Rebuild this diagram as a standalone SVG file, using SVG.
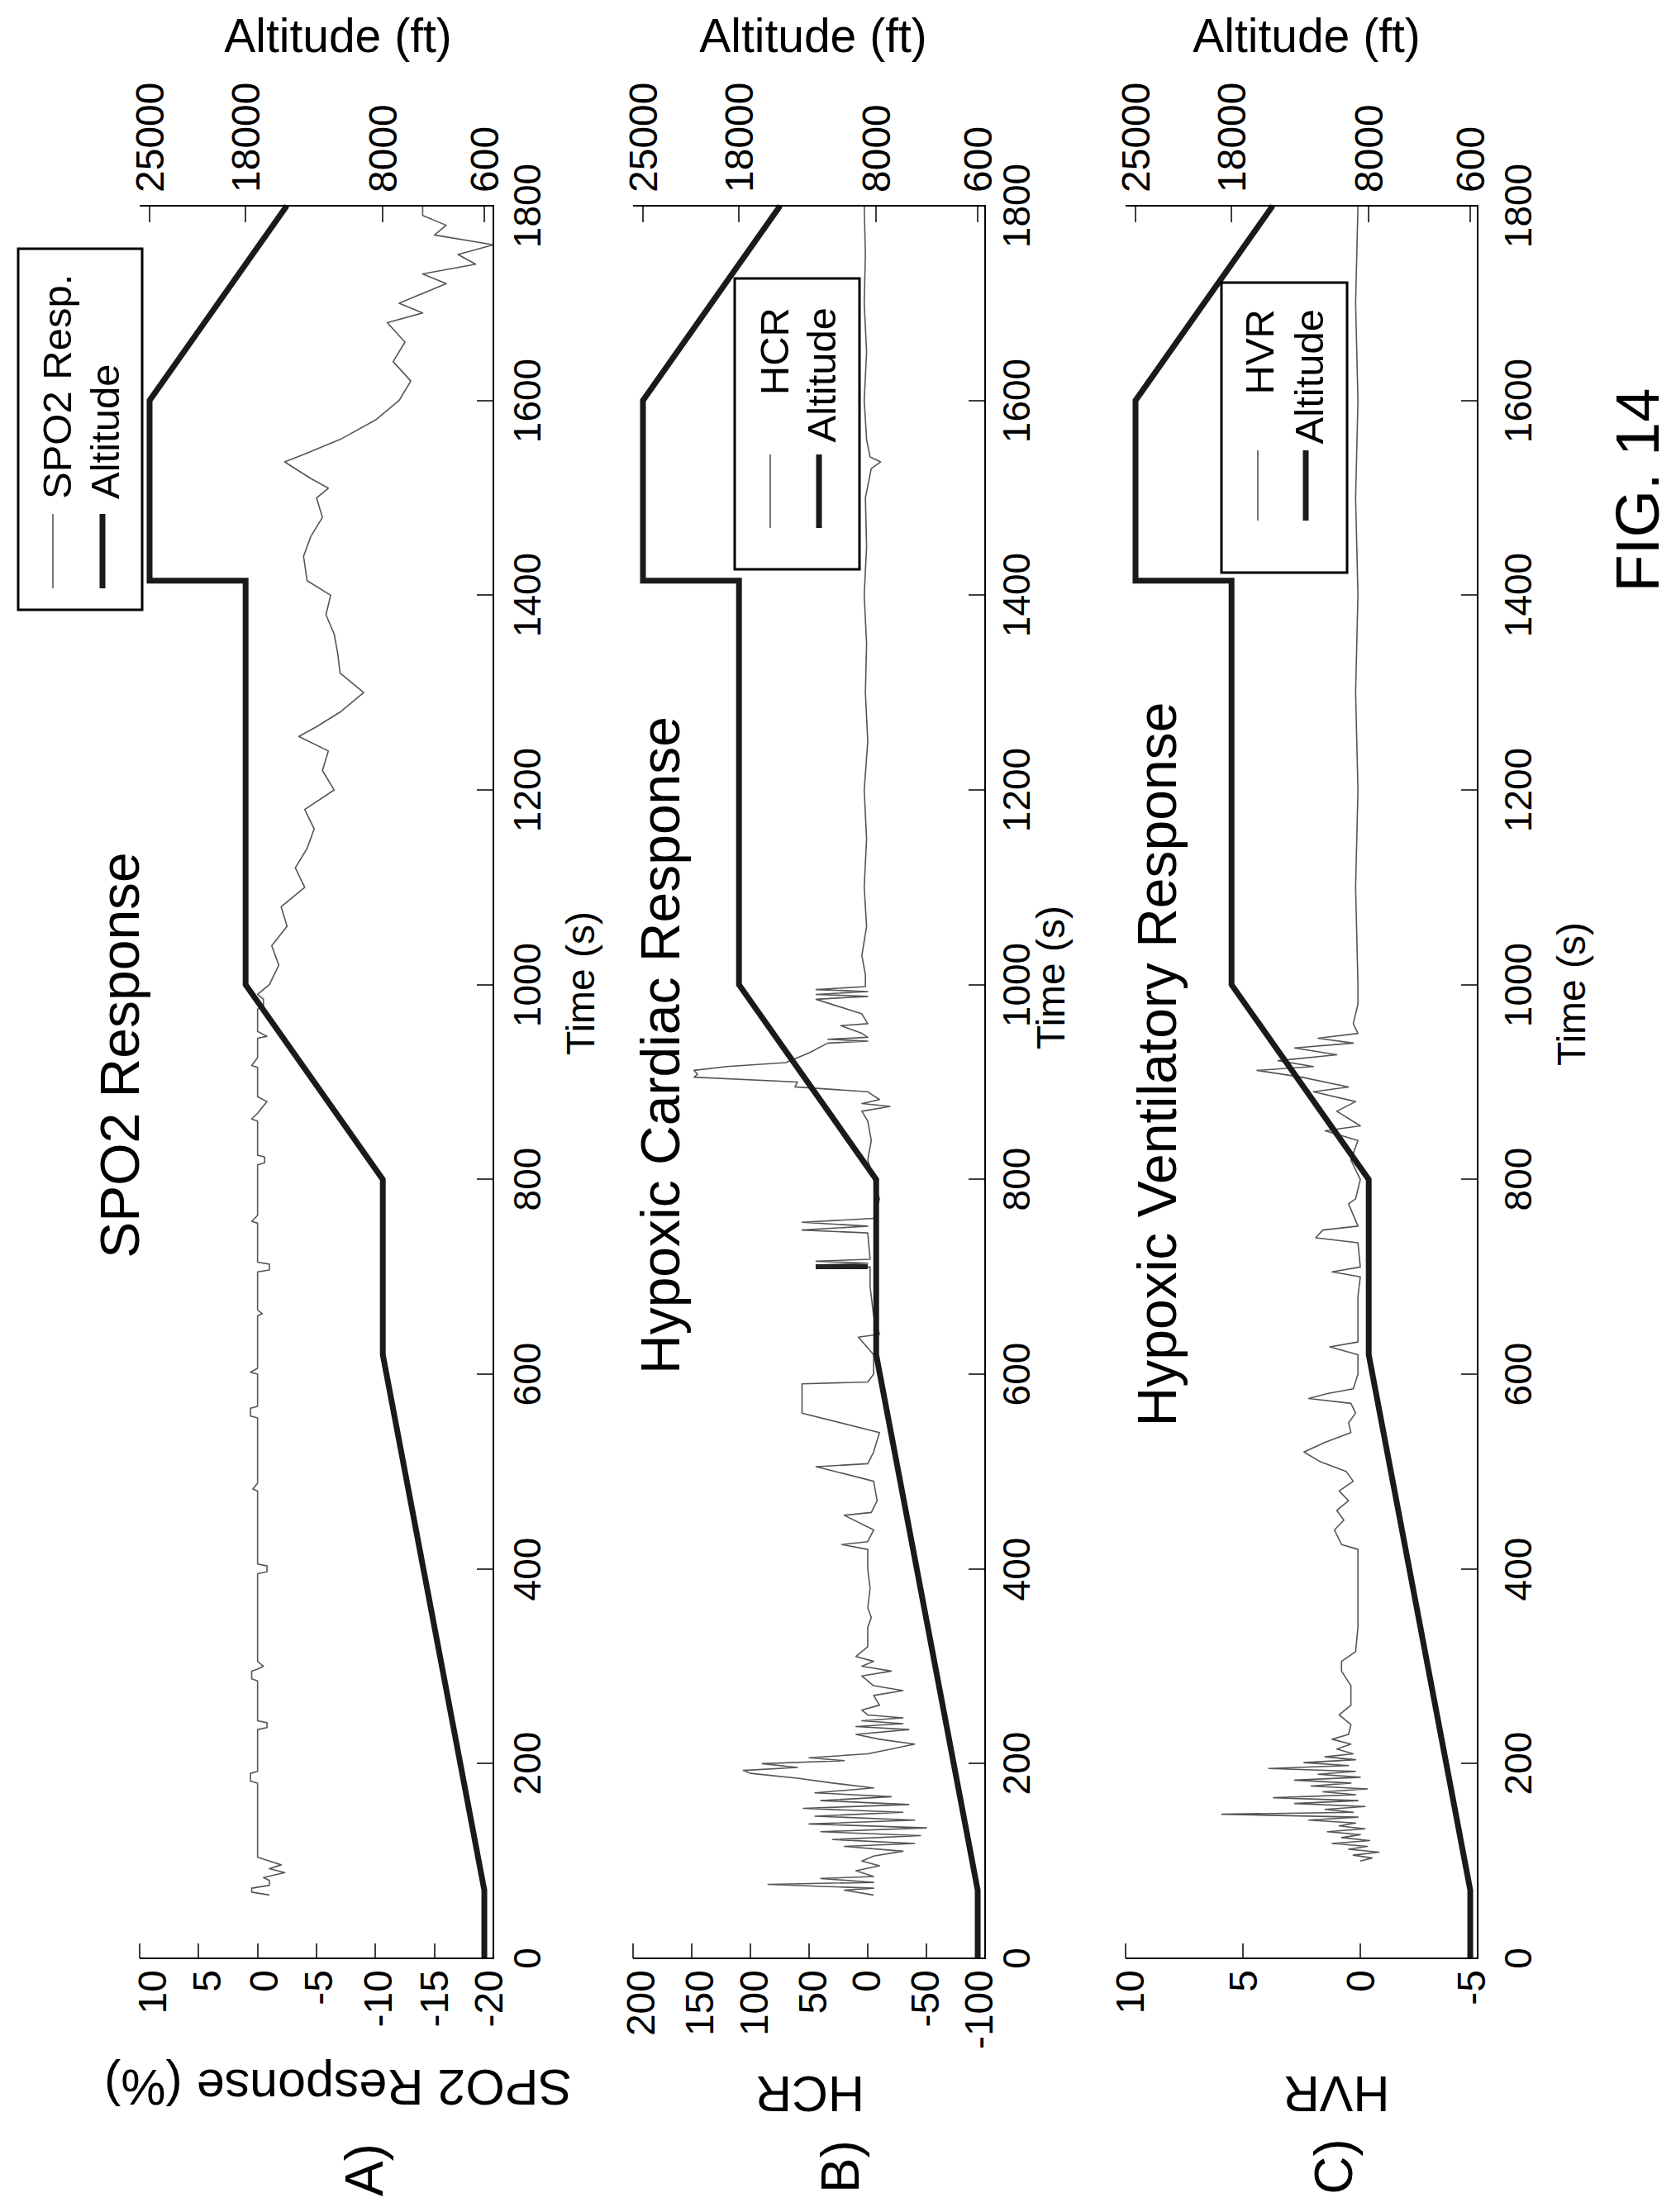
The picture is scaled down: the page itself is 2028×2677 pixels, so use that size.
<svg xmlns="http://www.w3.org/2000/svg" width="2028" height="2677" viewBox="0 0 2028 2677">
<style>
text{font-family:"Liberation Sans",Arial,sans-serif;fill:#000}
.ax{stroke:#000;stroke-width:2;fill:none}
.tk{stroke:#000;stroke-width:1.5}
.tr{fill:none;stroke:#555;stroke-width:1.6;vector-effect:non-scaling-stroke;stroke-linejoin:round}
.alt{fill:none;stroke:#1a1a1a;stroke-width:7;vector-effect:non-scaling-stroke;stroke-linejoin:miter}
.tl{font-size:46px}
.vt{font-size:48px}
.ttl{font-size:66px}
.lg{font-size:49px}
.box{fill:#fff;stroke:#000;stroke-width:3}
</style>
<rect width="2028" height="2677" fill="#fff"/>

<g id="panelA">
<polyline class="tr" transform="matrix(0,-1.1783,-14.267,0,311.67,2370)" points="65,-1 68,0.5 72,0.5 75,-1 80,-1 83,-0.5 88,-2.3 92,-1 96,-2 100,-1 104,0 110,0 180,0 182,0.6 190,0.6 192,0 235,0 237,-0.8 242,-0.8 244,0 285,0 287,0.5 295,0.5 297,0 300,-0.5 305,0 395,0 397,-0.8 403,-0.8 405,0 480,0 482,0.4 488,0 555,0 557,0.6 565,0.6 567,0 600,0 602,0.6 606,0 660,0 662,-0.4 666,0 705,0 707,-1 713,-1 715,0 755,0 757,0.5 763,0 815,0 817,-0.6 823,-0.6 825,0 860,0 862,0.5 868,0 880,-0.8 885,0 915,0 917,0.5 925,0 945,0 947,-0.8 952,0 975,0 977,-0.5 985,-0.5 990,0 1000,-1 1020,-1.8 1040,-1.2 1060,-2.5 1080,-2 1100,-4 1120,-3.2 1140,-4.2 1160,-4.8 1180,-4 1200,-6.5 1220,-5.5 1240,-6 1255,-3.5 1265,-5 1280,-7 1300,-9 1310,-8 1320,-7 1340,-6.8 1360,-6.5 1380,-5.8 1400,-6.2 1415,-4.2 1440,-3.9 1460,-4.5 1480,-5.5 1500,-5 1510,-6 1520,-4.5 1537,-2.3 1545,-4 1560,-7 1580,-10 1600,-12 1620,-13 1640,-11.5 1660,-12.5 1680,-11 1690,-14 1700,-12 1720,-16 1730,-14 1740,-18.5 1750,-17 1760,-20 1770,-15 1780,-16 1790,-14 1800,-14"/>
<polyline class="alt" transform="matrix(0,-1.1783,-0.0166,0,596,2370)" points="0,600 70,600 620,8000 800,8000 1000,18000 1415,18000 1415,25000 1600,25000 1800,15000"/>
<path class="ax" d="M169,2370H597V249H169"/>
<path class="tk" d="M577,2370H597M577,2134H597M577,1899H597M577,1663H597M577,1427H597M577,1192H597M577,956H597M577,720H597M577,485H597M577,249H597 M169,2370V2352M240,2370V2352M312,2370V2352M383,2370V2352M454,2370V2352M526,2370V2352 M181,249V269M297,249V269M463,249V269M586,249V269"/>
<g class="tl" text-anchor="middle">
<text transform="translate(654,2370) rotate(-90)">0</text>
<text transform="translate(654,2134) rotate(-90)">200</text>
<text transform="translate(654,1899) rotate(-90)">400</text>
<text transform="translate(654,1663) rotate(-90)">600</text>
<text transform="translate(654,1427) rotate(-90)">800</text>
<text transform="translate(654,1192) rotate(-90)">1000</text>
<text transform="translate(654,956) rotate(-90)">1200</text>
<text transform="translate(654,720) rotate(-90)">1400</text>
<text transform="translate(654,485) rotate(-90)">1600</text>
<text transform="translate(654,249) rotate(-90)">1800</text>
</g>
<g class="vt" text-anchor="end">
<text transform="translate(201,2384) rotate(-90)">10</text>
<text transform="translate(267,2384) rotate(-90)">5</text>
<text transform="translate(336,2384) rotate(-90)">0</text>
<text transform="translate(402,2384) rotate(-90)">-5</text>
<text transform="translate(474,2384) rotate(-90)">-10</text>
<text transform="translate(542,2384) rotate(-90)">-15</text>
<text transform="translate(608,2384) rotate(-90)">-20</text>
</g>
<g class="vt" text-anchor="start">
<text transform="translate(198,233) rotate(-90)">25000</text>
<text transform="translate(314,233) rotate(-90)">18000</text>
<text transform="translate(480,233) rotate(-90)">8000</text>
<text transform="translate(603,233) rotate(-90)">600</text>
</g>
<text x="409" y="63" font-size="57" text-anchor="middle">Altitude (ft)</text>
<text class="ttl" text-anchor="middle" transform="translate(168,1277) rotate(-90)">SPO2 Response</text>
<text font-size="48" text-anchor="middle" transform="translate(719,1190) rotate(-90)">Time (s)</text>
<text font-size="61" text-anchor="middle" transform="translate(409,2505) rotate(180)">SPO2 Response (%)</text>
<text font-size="64" text-anchor="middle" transform="translate(463,2626) rotate(-90)">A)</text>
</g>
<g id="legendA">
<rect class="box" x="22" y="301" width="150" height="437"/>
<text class="lg" transform="translate(86,604) rotate(-90)">SPO2 Resp.</text>
<text class="lg" transform="translate(144,604) rotate(-90)">Altitude</text>
<line x1="64" y1="622" x2="64" y2="712" stroke="#555" stroke-width="1.6"/>
<line x1="124" y1="622" x2="124" y2="712" stroke="#1a1a1a" stroke-width="7"/>
</g>

<g id="panelB">
<polyline class="tr" transform="matrix(0,-1.1783,-1.42,0,1050,2370)" points="65,-5 70,20 72,-5 76,85 78,-5 82,40 84,-5 90,10 95,-10 100,5 105,-5 110,-30 115,20 118,-40 122,30 126,-45 130,40 134,-50 138,50 142,-40 146,45 150,-30 154,55 158,-35 162,40 166,-20 170,45 175,-5 180,30 185,60 190,100 193,106 196,60 200,90 203,20 206,50 210,0 215,-20 220,-40 225,-10 230,10 235,-35 238,10 241,-30 244,5 247,-30 250,0 255,5 260,-10 270,-5 275,-30 280,-5 290,5 295,-20 300,5 305,-5 310,10 320,0 340,0 350,-3 360,0 380,-2 400,0 420,0 425,22 428,0 440,-5 455,20 458,-3 470,-8 490,-5 505,44 508,0 520,-5 540,-10 560,56 590,56 592,0 600,-5 620,-5 638,8 641,-10 660,-5 690,-2 710,-2 712,44 714,0 716,44 718,-2 745,0 748,56 752,0 756,56 760,-5 780,-10 800,-5 820,0 840,-3 860,0 870,5 875,-19 878,5 882,-10 890,0 895,62 900,60 905,148 908,145 912,148 916,120 920,70 930,50 940,34 942,0 944,34 946,0 950,5 958,23 960,0 970,5 985,44 988,0 990,44 993,0 995,44 998,2 1010,2 1030,5 1060,1 1100,3 1150,1 1200,3 1250,0 1300,2 1350,1 1400,3 1450,1 1500,2 1530,-3 1537,-11 1542,-2 1560,1 1600,3 1650,1 1700,3 1750,2 1800,3"/>
<line x1="987" y1="1533" x2="1050" y2="1533" stroke="#222" stroke-width="6"/>
<polyline class="alt" transform="matrix(0,-1.1783,-0.0166,0,1193,2370)" points="0,600 70,600 620,8000 800,8000 1000,18000 1415,18000 1415,25000 1600,25000 1800,15000"/>
<path class="ax" d="M766,2370H1192V249H766"/>
<path class="tk" d="M1172,2370H1192M1172,2134H1192M1172,1899H1192M1172,1663H1192M1172,1427H1192M1172,1192H1192M1172,956H1192M1172,720H1192M1172,485H1192M1172,249H1192 M766,2370V2352M837,2370V2352M908,2370V2352M979,2370V2352M1050,2370V2352M1121,2370V2352 M778,249V269M894,249V269M1060,249V269M1183,249V269"/>
<g class="tl" text-anchor="middle">
<text transform="translate(1246,2370) rotate(-90)">0</text>
<text transform="translate(1246,2134) rotate(-90)">200</text>
<text transform="translate(1246,1899) rotate(-90)">400</text>
<text transform="translate(1246,1663) rotate(-90)">600</text>
<text transform="translate(1246,1427) rotate(-90)">800</text>
<text transform="translate(1246,1192) rotate(-90)">1000</text>
<text transform="translate(1246,956) rotate(-90)">1200</text>
<text transform="translate(1246,720) rotate(-90)">1400</text>
<text transform="translate(1246,485) rotate(-90)">1600</text>
<text transform="translate(1246,249) rotate(-90)">1800</text>
</g>
<g class="vt" text-anchor="end">
<text transform="translate(792,2384) rotate(-90)">200</text>
<text transform="translate(863,2384) rotate(-90)">150</text>
<text transform="translate(929,2384) rotate(-90)">100</text>
<text transform="translate(1000,2384) rotate(-90)">50</text>
<text transform="translate(1065,2384) rotate(-90)">0</text>
<text transform="translate(1136,2384) rotate(-90)">-50</text>
<text transform="translate(1201,2384) rotate(-90)">-100</text>
</g>
<g class="vt" text-anchor="start">
<text transform="translate(795,233) rotate(-90)">25000</text>
<text transform="translate(911,233) rotate(-90)">18000</text>
<text transform="translate(1077,233) rotate(-90)">8000</text>
<text transform="translate(1200,233) rotate(-90)">600</text>
</g>
<text x="984" y="63" font-size="57" text-anchor="middle">Altitude (ft)</text>
<text class="ttl" text-anchor="middle" transform="translate(822,1265) rotate(-90)">Hypoxic Cardiac Response</text>
<text font-size="48" text-anchor="middle" transform="translate(1288,1183) rotate(-90)">Time (s)</text>
<text font-size="61" text-anchor="middle" transform="translate(980,2513) rotate(180)">HCR</text>
<text font-size="64" text-anchor="middle" transform="translate(1039,2622) rotate(-90)">B)</text>
</g>
<g id="legendB">
<rect class="box" x="889" y="337" width="151" height="352"/>
<text class="lg" text-anchor="end" transform="translate(954,372) rotate(-90)">HCR</text>
<text class="lg" text-anchor="end" transform="translate(1011,372) rotate(-90)">Altitude</text>
<line x1="932" y1="550" x2="932" y2="639" stroke="#555" stroke-width="1.6"/>
<line x1="991" y1="550" x2="991" y2="639" stroke="#1a1a1a" stroke-width="7"/>
</g>

<g id="panelC">
<polyline class="tr" transform="matrix(0,-1.1783,-28.4,0,1646,2370)" points="100,0 103,-0.5 106,0.3 109,-0.8 112,0.5 115,-0.3 118,1.2 121,-0.4 124,0.8 127,0 130,1.4 133,-0.2 136,0.9 139,0.2 142,2.2 145,0.1 148,5.9 150,0.3 153,1.5 156,-0.2 159,2.8 162,0.1 165,3.7 168,0.2 171,1.6 174,-0.3 177,2.1 180,0.4 183,2.8 186,0 189,1.8 192,0.2 195,3.9 198,0.5 201,2.4 204,0.2 207,1.5 210,0.3 215,1 220,0.4 225,1.2 230,0.5 240,0.4 250,0.9 260,0.4 280,0.4 295,0.8 305,0.8 315,0.2 340,0.1 380,0.1 420,0.1 425,0.8 440,1.1 450,0.7 460,1 470,0.5 480,0.9 490,0.3 500,0.6 510,1.7 520,2.4 530,1.5 540,0.4 550,0.5 560,0.2 570,0.4 575,2.2 580,1.4 585,0.3 600,0.1 620,0.1 628,1.3 633,0.1 680,0.1 700,0 705,1.2 710,0 735,0.1 740,1.9 748,1.6 752,0.1 775,0.5 780,0.2 800,0 820,0.4 840,0.1 850,1.5 855,0 870,1 880,0.2 890,2 895,0.5 905,2.5 912,4.4 916,2 922,3.5 928,1 935,2.8 940,0.3 945,1.8 950,0.1 960,0.3 980,0.1 1000,0.1 1100,0.2 1200,0.1 1300,0.2 1400,0.1 1500,0.2 1600,0.1 1700,0.2 1800,0.1"/>
<polyline class="alt" transform="matrix(0,-1.1783,-0.0166,0,1789,2370)" points="0,600 70,600 620,8000 800,8000 1000,18000 1415,18000 1415,25000 1600,25000 1800,15000"/>
<path class="ax" d="M1362,2370H1788V249H1362"/>
<path class="tk" d="M1768,2370H1788M1768,2134H1788M1768,1899H1788M1768,1663H1788M1768,1427H1788M1768,1192H1788M1768,956H1788M1768,720H1788M1768,485H1788M1768,249H1788 M1362,2370V2352M1504,2370V2352M1646,2370V2352 M1374,249V269M1490,249V269M1656,249V269M1779,249V269"/>
<g class="tl" text-anchor="middle">
<text transform="translate(1853,2370) rotate(-90)">0</text>
<text transform="translate(1853,2134) rotate(-90)">200</text>
<text transform="translate(1853,1899) rotate(-90)">400</text>
<text transform="translate(1853,1663) rotate(-90)">600</text>
<text transform="translate(1853,1427) rotate(-90)">800</text>
<text transform="translate(1853,1192) rotate(-90)">1000</text>
<text transform="translate(1853,956) rotate(-90)">1200</text>
<text transform="translate(1853,720) rotate(-90)">1400</text>
<text transform="translate(1853,485) rotate(-90)">1600</text>
<text transform="translate(1853,249) rotate(-90)">1800</text>
</g>
<g class="vt" text-anchor="end">
<text transform="translate(1384,2384) rotate(-90)">10</text>
<text transform="translate(1521,2384) rotate(-90)">5</text>
<text transform="translate(1663,2384) rotate(-90)">0</text>
<text transform="translate(1797,2384) rotate(-90)">-5</text>
</g>
<g class="vt" text-anchor="start">
<text transform="translate(1391,233) rotate(-90)">25000</text>
<text transform="translate(1507,233) rotate(-90)">18000</text>
<text transform="translate(1673,233) rotate(-90)">8000</text>
<text transform="translate(1796,233) rotate(-90)">600</text>
</g>
<text x="1581" y="63" font-size="57" text-anchor="middle">Altitude (ft)</text>
<text class="ttl" text-anchor="middle" transform="translate(1423,1288) rotate(-90)">Hypoxic Ventilatory Response</text>
<text font-size="48" text-anchor="middle" transform="translate(1918,1203) rotate(-90)">Time (s)</text>
<text font-size="61" text-anchor="middle" transform="translate(1617,2513) rotate(180)">HVR</text>
<text font-size="64" text-anchor="middle" transform="translate(1636,2622) rotate(-90)">C)</text>
</g>
<g id="legendC">
<rect class="box" x="1478" y="342" width="152" height="351"/>
<text class="lg" text-anchor="end" transform="translate(1541,374) rotate(-90)">HVR</text>
<text class="lg" text-anchor="end" transform="translate(1601,374) rotate(-90)">Altitude</text>
<line x1="1522" y1="545" x2="1522" y2="630" stroke="#555" stroke-width="1.6"/>
<line x1="1580" y1="545" x2="1580" y2="630" stroke="#1a1a1a" stroke-width="7"/>
</g>

<text id="figlabel" font-size="74" text-anchor="middle" transform="translate(2007,593) rotate(-90)">FIG. 14</text>
</svg>
